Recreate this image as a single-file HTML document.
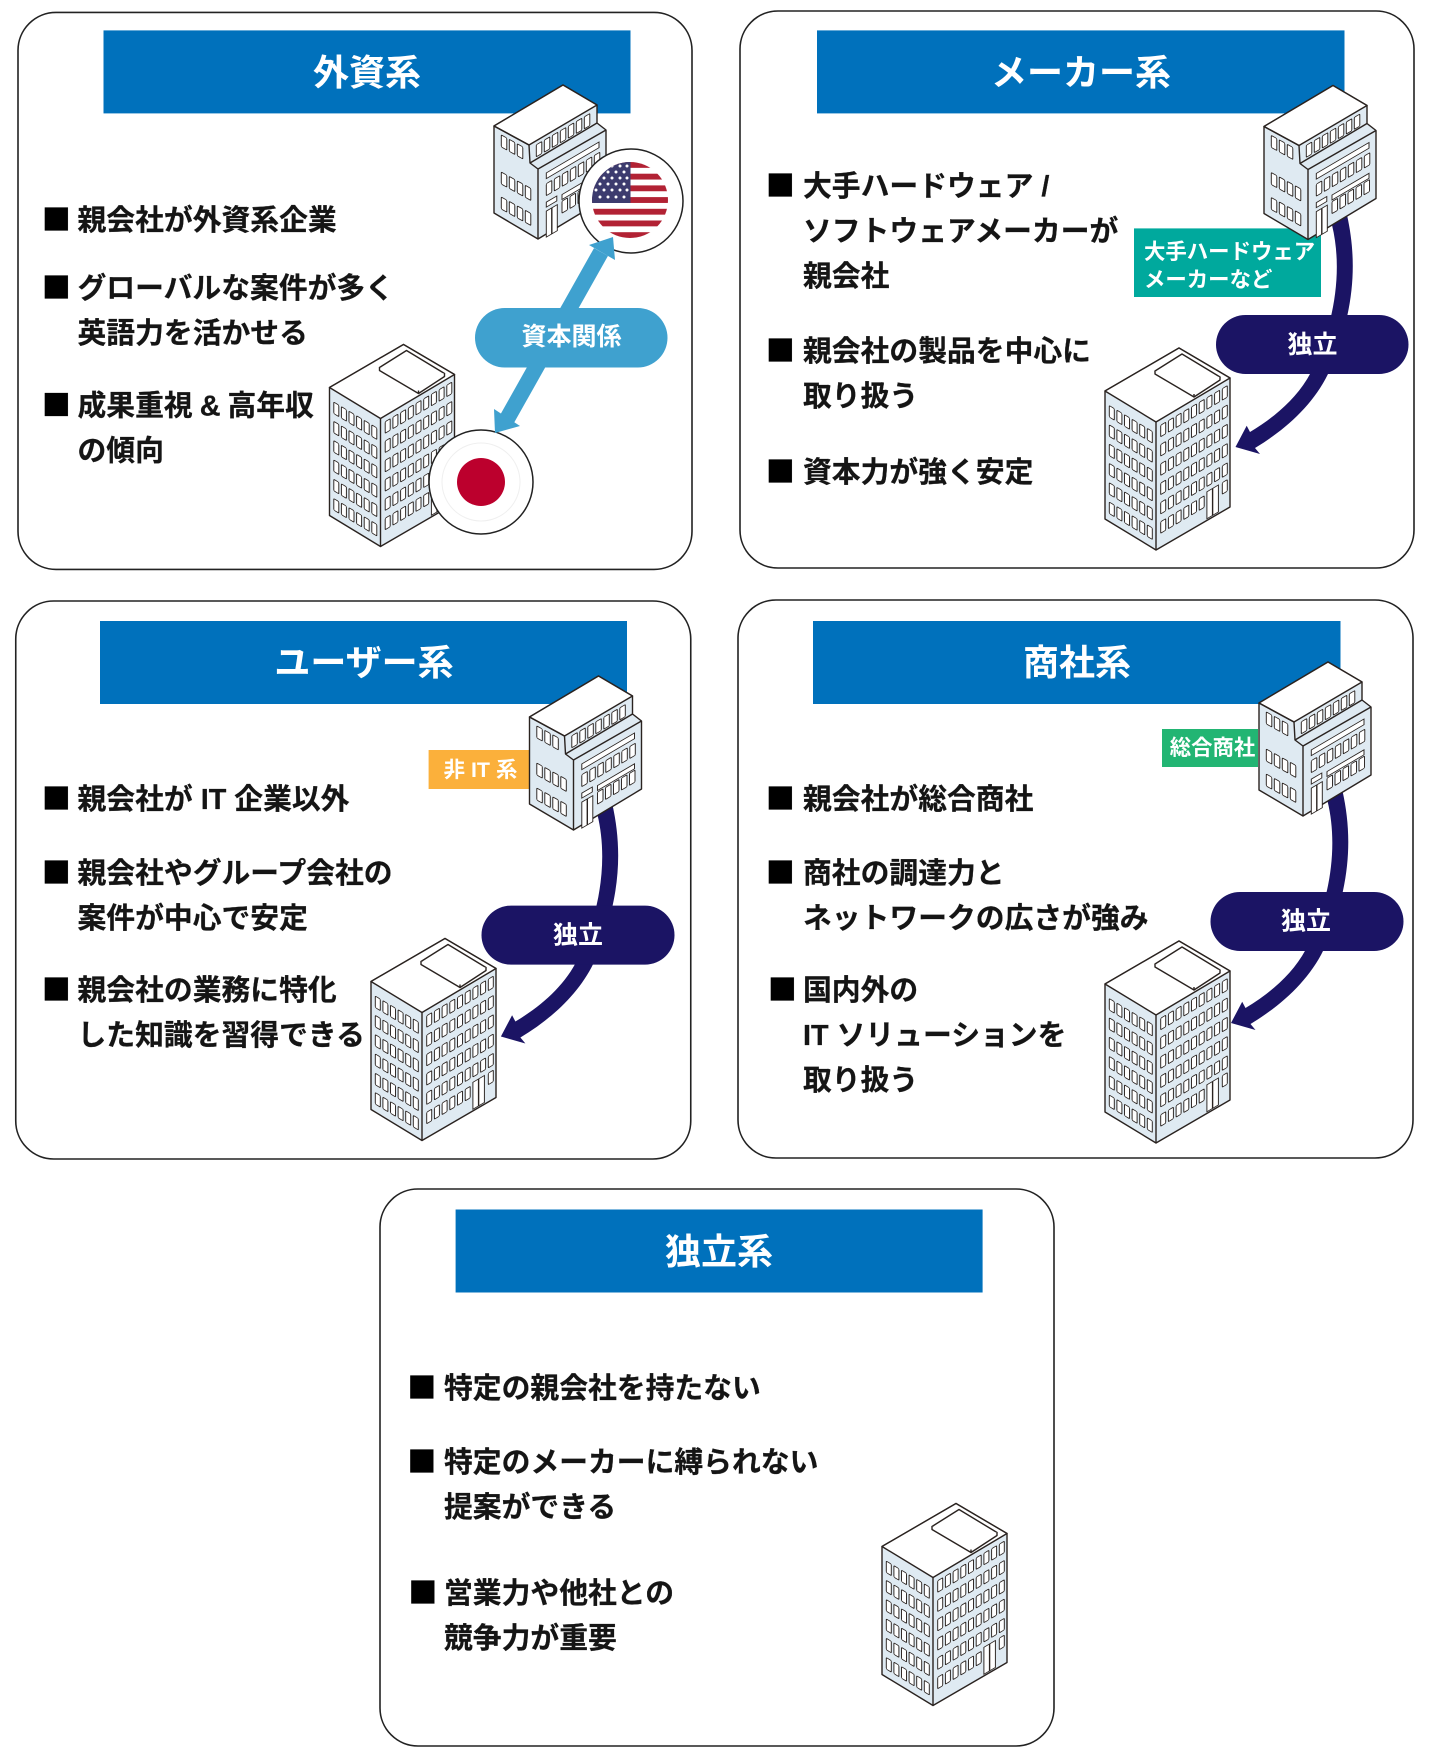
<!DOCTYPE html>
<html lang="ja">
<head>
<meta charset="utf-8">
<title>SIer types</title>
<style>
html,body{margin:0;padding:0;background:#fff;width:1440px;height:1764px;overflow:hidden}
svg{display:block;filter:blur(.35px)}
text{font-family:"Liberation Sans","Noto Sans CJK JP",sans-serif;font-weight:700}
.b text,.b{font-size:28.8px;fill:#151515;stroke:#151515;stroke-width:.25}
.b .s{font-family:"Noto Sans CJK JP",sans-serif;fill:#000;stroke:#000}
.t{font-size:36px;fill:#fff;text-anchor:middle}
.p{font-size:25px;fill:#fff;text-anchor:middle}
.g{font-size:21.4px;fill:#fff;font-weight:700}
.card{fill:#fff;stroke:#222;stroke-width:1.6}
.w rect{fill:#fff;stroke:#2a2320;stroke-width:.95}
.o{stroke:#2a2320;stroke-width:1.4;stroke-linejoin:round}
</style>
</head>
<body>
<svg width="1440" height="1764" viewBox="0 0 1440 1764" xmlns="http://www.w3.org/2000/svg">
<defs>
<g id="tr" class="w"><rect x="4.7" width="5" height="11.5" rx="1"/><rect x="12.4" width="5" height="11.5" rx="1"/><rect x="20.1" width="5" height="11.5" rx="1"/><rect x="27.8" width="5" height="11.5" rx="1"/><rect x="35.5" width="5" height="11.5" rx="1"/><rect x="43.2" width="5" height="11.5" rx="1"/><rect x="50.9" width="5" height="11.5" rx="1"/><rect x="58.6" width="5" height="11.5" rx="1"/><rect x="66.3" width="5" height="11.5" rx="1"/></g>
<g id="tl" class="w"><rect x="4.3" width="5" height="11.5" rx="1"/><rect x="11.9" width="5" height="11.5" rx="1"/><rect x="19.5" width="5" height="11.5" rx="1"/><rect x="27.1" width="5" height="11.5" rx="1"/><rect x="34.7" width="5" height="11.5" rx="1"/><rect x="42.3" width="5" height="11.5" rx="1"/></g>
<g id="tall">
<polygon class="o" points="74,0 125,30 125,159 51,202 0,171 0,43" fill="#dfeaf2"/>
<polygon class="o" points="0,43 74,0 125,30 51,74" fill="#fff"/>
<line class="o" x1="51" y1="74" x2="51" y2="202"/>
<polygon class="o" points="50,23 77,6 115,29 89,46" fill="#fff"/>
<polyline class="o" points="50,23 50,26 89,49 115,32 115,29" fill="#fff"/>
<line class="o" x1="89" y1="46" x2="89" y2="49"/>
<g transform="translate(0,43) skewY(31)">
<use href="#tl" y="12"/><use href="#tl" y="31.3"/><use href="#tl" y="50.6"/><use href="#tl" y="69.9"/><use href="#tl" y="89.2"/><use href="#tl" y="108.5"/>
</g>
<g transform="translate(51,74) skewY(-30.7)">
<use href="#tr" y="6"/><use href="#tr" y="25.3"/><use href="#tr" y="44.6"/><use href="#tr" y="63.9"/><use href="#tr" y="83.2"/>
<g class="w"><rect x="4.7" y="102.5" width="5" height="11.5" rx="1"/><rect x="12.4" y="102.5" width="5" height="11.5" rx="1"/><rect x="20.1" y="102.5" width="5" height="11.5" rx="1"/><rect x="27.8" y="102.5" width="5" height="11.5" rx="1"/><rect x="35.5" y="102.5" width="5" height="11.5" rx="1"/><rect x="43.2" y="102.5" width="5" height="11.5" rx="1"/><rect x="50.9" y="100" width="11.5" height="27"/><rect x="66.3" y="100" width="5" height="11.5" rx="1"/></g>
<line class="o" x1="56.6" y1="100" x2="56.6" y2="127" stroke-width="1"/>
</g>
</g>
<g id="small">
<polygon class="o" points="0,41 69,0 103,20 103,38 112,45 112,113 44,154 0,128" fill="#dfeaf2"/>
<polygon class="o" points="0,41 69,0 103,20 35,60" fill="#fff"/>
<polyline class="o" points="0,41 35,60 36,78 44,84 44,154" fill="none"/>
<polyline class="o" points="36,78 103,38" fill="none"/>
<polyline class="o" points="44,84 112,45" fill="none"/>
<g transform="translate(0,41) skewY(29)" class="w">
<rect x="7.3" y="4.9" width="5.5" height="12" rx="1"/><rect x="15.3" y="4.9" width="5.5" height="12" rx="1"/><rect x="23.3" y="4.9" width="5.5" height="12" rx="1"/>
<rect x="7.3" y="42" width="5.5" height="12" rx="1"/><rect x="15.3" y="42" width="5.5" height="12" rx="1"/><rect x="23.3" y="42" width="5.5" height="12" rx="1"/><rect x="31.3" y="42" width="5.5" height="12" rx="1"/>
<rect x="7.3" y="67" width="5.5" height="12" rx="1"/><rect x="15.3" y="67" width="5.5" height="12" rx="1"/><rect x="23.3" y="67" width="5.5" height="12" rx="1"/><rect x="31.3" y="67" width="5.5" height="12" rx="1"/>
</g>
<g transform="translate(35,60) skewY(-30.2)" class="w">
<rect x="7.3" y="4" width="5.5" height="12" rx="1"/><rect x="15.3" y="4" width="5.5" height="12" rx="1"/><rect x="23.3" y="4" width="5.5" height="12" rx="1"/><rect x="31.3" y="4" width="5.5" height="12" rx="1"/><rect x="39.3" y="4" width="5.5" height="12" rx="1"/><rect x="47.3" y="4" width="5.5" height="12" rx="1"/><rect x="55.3" y="4" width="5.5" height="12" rx="1"/>
</g>
<g transform="translate(44,84) skewY(-30.4)" class="w">
<rect x="8.3" y="8.8" width="52.7" height="5.7"/>
<rect x="8.3" y="19.5" width="5.5" height="12" rx="1"/><rect x="16.3" y="19.5" width="5.5" height="12" rx="1"/><rect x="24.3" y="19.5" width="5.5" height="12" rx="1"/><rect x="32.3" y="19.5" width="5.5" height="12" rx="1"/><rect x="40.3" y="19.5" width="5.5" height="12" rx="1"/><rect x="48.3" y="19.5" width="5.5" height="12" rx="1"/><rect x="56.3" y="19.5" width="5.5" height="12" rx="1"/>
<rect x="24" y="39.6" width="37" height="5"/>
<rect x="24" y="46.2" width="5.5" height="12" rx="1"/><rect x="32" y="46.2" width="5.5" height="12" rx="1"/><rect x="40" y="46.2" width="5.5" height="12" rx="1"/><rect x="48" y="46.2" width="5.5" height="12" rx="1"/><rect x="56" y="46.2" width="5.5" height="12" rx="1"/>
<rect x="8.3" y="38" width="10.5" height="5"/>
<rect x="8.3" y="47" width="11" height="26"/>
<line class="o" x1="13.8" y1="47" x2="13.8" y2="73" stroke-width="1"/>
</g>
</g>
<path id="arrow" fill="#1b1464" d="M1347,215 C1357,260 1356,310 1328,374 C1313,405 1285,430 1255,448 L1260,454 L1235.5,447 L1246.7,425.7 L1250,432 C1275,417 1297,398 1310,374 C1335,325 1343,270 1332,225 Z"/>
<clipPath id="us"><circle cx="630" cy="200" r="38"/></clipPath>
</defs>

<!-- Card 1 -->
<rect class="card" x="18" y="12.4" width="674" height="557" rx="38"/>
<rect x="103.5" y="30.4" width="527" height="83" fill="#0071bc"/>
<text class="t" x="367" y="85">外資系</text>
<g class="b">
<text class="s" x="42" y="230">■</text><text x="77.5" y="230">親会社が外資系企業</text>
<text class="s" x="42" y="298">■</text><text x="77.5" y="298">グローバルな案件が多く</text>
<text x="77.5" y="343">英語力を活かせる</text>
<text class="s" x="42" y="415.5">■</text><text x="77.5" y="415.5" word-spacing="-1">成果重視 &amp; 高年収</text>
<text x="77.5" y="460.5">の傾向</text>
</g>
<use href="#small" x="494" y="85"/>
<use href="#tall" x="329.5" y="344.5"/>
<circle cx="631" cy="201" r="52" fill="#fff" stroke="#222" stroke-width="1.5"/>
<g clip-path="url(#us)">
<rect x="590" y="162" width="80" height="76" fill="#fff"/>
<g fill="#b22234">
<rect x="590" y="162" width="80" height="5.85"/><rect x="590" y="173.7" width="80" height="5.85"/><rect x="590" y="185.4" width="80" height="5.85"/><rect x="590" y="197.1" width="80" height="5.85"/><rect x="590" y="208.8" width="80" height="5.85"/><rect x="590" y="220.5" width="80" height="5.85"/><rect x="590" y="232.2" width="80" height="5.85"/>
</g>
<rect x="590" y="162" width="40.5" height="41" fill="#3c3b6e"/>
<g fill="#fff">
<circle cx="604" cy="166" r="1.5"/><circle cx="612" cy="166" r="1.5"/><circle cx="620" cy="166" r="1.5"/><circle cx="627" cy="166" r="1.5"/>
<circle cx="600" cy="172" r="1.5"/><circle cx="608" cy="172" r="1.5"/><circle cx="616" cy="172" r="1.5"/><circle cx="624" cy="172" r="1.5"/>
<circle cx="596" cy="178" r="1.5"/><circle cx="604" cy="178" r="1.5"/><circle cx="612" cy="178" r="1.5"/><circle cx="620" cy="178" r="1.5"/><circle cx="627" cy="178" r="1.5"/>
<circle cx="600" cy="184" r="1.5"/><circle cx="608" cy="184" r="1.5"/><circle cx="616" cy="184" r="1.5"/><circle cx="624" cy="184" r="1.5"/>
<circle cx="596" cy="190" r="1.5"/><circle cx="604" cy="190" r="1.5"/><circle cx="612" cy="190" r="1.5"/><circle cx="620" cy="190" r="1.5"/><circle cx="627" cy="190" r="1.5"/>
<circle cx="600" cy="197" r="1.5"/><circle cx="608" cy="197" r="1.5"/><circle cx="616" cy="197" r="1.5"/><circle cx="624" cy="197" r="1.5"/>
</g>
</g>
<circle cx="481" cy="482" r="52" fill="#fff" stroke="#222" stroke-width="1.5"/>
<circle cx="481" cy="482" r="39" fill="none" stroke="#efefef" stroke-width="1"/>
<circle cx="481" cy="482" r="24" fill="#bc002d"/>
<line x1="601" y1="252" x2="507" y2="419" stroke="#3fa1cf" stroke-width="16"/>
<polygon points="613,237 589,245 615,260" fill="#3fa1cf"/>
<polygon points="495,433 494,409 520,426" fill="#3fa1cf"/>
<rect x="475" y="308" width="192.5" height="59.5" rx="29.7" fill="#3fa1cf"/>
<text class="p" x="571.5" y="345">資本関係</text>

<!-- Card 2 -->
<rect class="card" x="740" y="11" width="674" height="557" rx="38"/>
<rect x="817" y="30.4" width="527.5" height="83" fill="#0071bc"/>
<text class="t" x="1081" y="85">メーカー系</text>
<g class="b">
<text class="s" x="766" y="196">■</text><text x="803" y="196">大手ハードウェア /</text>
<text x="803" y="241">ソフトウェアメーカーが</text>
<text x="803" y="286">親会社</text>
<text class="s" x="766" y="361">■</text><text x="803" y="361">親会社の製品を中心に</text>
<text x="803" y="406">取り扱う</text>
<text class="s" x="766" y="482">■</text><text x="803" y="482">資本力が強く安定</text>
</g>
<rect x="1134" y="228.4" width="187" height="68.6" fill="#00a99d"/>
<text class="g" x="1144" y="259">大手ハードウェア</text>
<text class="g" x="1144" y="287">メーカーなど</text>
<use href="#tall" x="1105" y="348"/>
<use href="#arrow"/>
<use href="#small" x="1264" y="85.5"/>
<rect x="1216" y="315" width="192.5" height="59" rx="29.5" fill="#1b1464"/>
<text class="p" x="1312.5" y="353">独立</text>

<!-- Card 3 -->
<rect class="card" x="15.75" y="601" width="675" height="558" rx="38"/>
<rect x="100" y="621" width="527" height="83" fill="#0071bc"/>
<text class="t" x="364" y="675">ユーザー系</text>
<g class="b">
<text class="s" x="42" y="809">■</text><text x="77.5" y="809">親会社が IT 企業以外</text>
<text class="s" x="42" y="883">■</text><text x="77.5" y="883">親会社やグループ会社の</text>
<text x="77.5" y="928">案件が中心で安定</text>
<text class="s" x="42" y="1000">■</text><text x="77.5" y="1000">親会社の業務に特化</text>
<text x="77.5" y="1045">した知識を習得できる</text>
</g>
<rect x="428.6" y="750" width="101" height="39" fill="#fbb03b"/>
<text class="g" x="480.5" y="777" text-anchor="middle">非 IT 系</text>
<use href="#tall" x="371" y="938.5"/>
<use href="#arrow" transform="translate(-734.6,589.5)"/>
<use href="#small" x="529.5" y="676"/>
<rect x="481.5" y="905.6" width="193" height="59" rx="29.5" fill="#1b1464"/>
<text class="p" x="578" y="943.5">独立</text>

<!-- Card 4 -->
<rect class="card" x="738" y="600" width="675" height="558" rx="38"/>
<rect x="813" y="621" width="527.5" height="83" fill="#0071bc"/>
<text class="t" x="1077" y="675">商社系</text>
<g class="b">
<text class="s" x="766" y="809">■</text><text x="803" y="809">親会社が総合商社</text>
<text class="s" x="766" y="883">■</text><text x="803" y="883">商社の調達力と</text>
<text x="803" y="928">ネットワークの広さが強み</text>
<text class="s" x="768" y="1000">■</text><text x="803" y="1000">国内外の</text>
<text x="803" y="1045">IT ソリューションを</text>
<text x="803" y="1090">取り扱う</text>
</g>
<rect x="1162" y="729" width="96" height="38" fill="#22b573"/>
<text class="g" x="1212.5" y="755" text-anchor="middle">総合商社</text>
<use href="#tall" x="1105" y="941"/>
<use href="#arrow" transform="translate(-4.5,576)"/>
<use href="#small" x="1259" y="662"/>
<rect x="1210.5" y="892" width="193" height="59" rx="29.5" fill="#1b1464"/>
<text class="p" x="1306" y="929.5">独立</text>

<!-- Card 5 -->
<rect class="card" x="380" y="1189" width="674" height="557" rx="38"/>
<rect x="455.6" y="1209.5" width="527" height="83" fill="#0071bc"/>
<text class="t" x="719" y="1264">独立系</text>
<g class="b">
<text class="s" x="407.5" y="1398">■</text><text x="444" y="1398">特定の親会社を持たない</text>
<text class="s" x="407.5" y="1472">■</text><text x="444" y="1472">特定のメーカーに縛られない</text>
<text x="444" y="1517">提案ができる</text>
<text class="s" x="408.5" y="1603">■</text><text x="444" y="1603">営業力や他社との</text>
<text x="444" y="1648">競争力が重要</text>
</g>
<use href="#tall" x="882" y="1503.5"/>
</svg>
</body>
</html>
